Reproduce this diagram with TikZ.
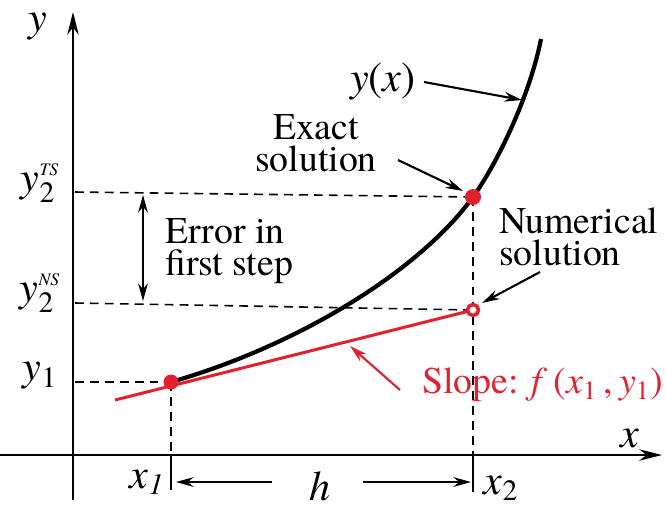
\documentclass[tikz,border=0pt]{standalone}
\usepackage{amsmath}
\usepackage{fontspec}
\setmainfont{texgyretermes}[Extension=.otf, UprightFont=*-regular,
  ItalicFont=*-italic, BoldFont=*-bold, BoldItalicFont=*-bolditalic]
\usetikzlibrary{arrows.meta, positioning, calc}
\definecolor{solred}{HTML}{E5202E}

\begin{document}
\begin{tikzpicture}[
  x=0.02cm, y=-0.02cm,
  ax/.style={-{Stealth[length=13pt, width=6.5pt]}, line width=1.1pt},
  curve/.style={line width=2.4pt},
  slope/.style={solred, line width=1.7pt},
  guide/.style={dashed, dash pattern=on 5pt off 3.5pt, line width=0.9pt},
  tick/.style={line width=0.9pt},
  pointer/.style={-{Stealth[length=10pt, width=5.5pt]}, line width=1.2pt},
  lbl/.style={font=\fontsize{24}{26}\selectfont, inner sep=1pt},
  txt/.style={font=\fontsize{21.5}{22}\selectfont, align=left, inner sep=1pt},
]
\useasboundingbox (0,0) rectangle (666,508);

% axes
\coordinate (o) at (73,455);
\coordinate (ybot) at (73,500);
\coordinate (ytop) at (73,12);
\coordinate (xleft) at (0,455);
\coordinate (xright) at (662,455);
\draw[ax] (ybot) -- (ytop);
\draw[ax] (xleft) -- (xright);
\node[lbl] (ylab) at (38,27) {\textit{y}};
\node[lbl] (xlab) at (630,438) {\textit{x}};

% points
\coordinate (p1) at (171,382);
\coordinate (pe) at (473,197);
\coordinate (pn) at (473,310);

% dashed guides
\draw[guide] (75,192) -- (pe);
\draw[guide] (75,303) -- (pn);
\draw[guide] (75,382) -- (p1);
\draw[guide] (p1) -- (171,455);
\draw[guide] (pe) -- (473,455);
\draw[tick] (171,455) -- (171,490);
\draw[tick] (473,455) -- (473,492);

% y labels
\node[lbl] (y2ts) at (40,183)
  {\textit{y}$_{\text{2}}^{\text{\fontsize{10}{10}\selectfont\itshape TS}}$};
\node[lbl] (y2ns) at (40,293)
  {\textit{y}$_{\text{2}}^{\text{\fontsize{10}{10}\selectfont\itshape NS}}$};
\node[lbl] (y1) at (40,376) {\textit{y}$_{\text{1}}$};

% exact solution curve
\draw[curve] (p1) .. controls (300,345) and (420,270) .. (pe)
  .. controls (498,162) and (530,95) .. (541,39);
\coordinate (cyx) at (522,100);

% slope line
\coordinate (sl0) at (115,400);
\draw[slope] (sl0) -- (pn);
\coordinate (sltip) at (350,346);

% markers
\fill[solred] (p1) circle (7.5);
\fill[solred] (pe) circle (8);
\draw[solred, line width=2pt, fill=white] (pn) circle (5.5);

% error arrow
\coordinate (erra) at (143,195);
\coordinate (errb) at (143,301);
\draw[{Stealth[length=10pt, width=5.5pt]}-{Stealth[length=10pt, width=5.5pt]}, line width=1.2pt] (erra) -- (errb);
\node[txt, anchor=west] (err) at (163,251) {Error in\\[-4pt]first step};

% labels with pointers
\node[lbl] (yx) at (383,82) {\textit{y}(\textit{x})};
\draw[pointer] (yx.east) ++(6,0) -- (cyx);

\node[txt, align=center] (exact) at (316,143) {Exact\\[-4pt]solution};
\coordinate (exact0) at (398,160);
\draw[pointer] (exact0) -- ($(pe)+(-10,-6)$);

\node[txt, anchor=west] (num) at (497,237) {Numerical\\[-4pt]solution};
\coordinate (num0) at (540,272);
\draw[pointer] (num0) -- ($(pn)+(9,-7)$);

\node[txt, anchor=west, text=solred] (slab) at (420,385)
  {Slope: \textit{f}\,(\textit{x}$_{\text{1}}$\,,\,\textit{y}$_{\text{1}}$)};
\coordinate (slope0) at (400,390);
\draw[pointer, solred] (slope0) -- (sltip);

% step width
\node[lbl] (x1) at (147,482) {\textit{x}$_{\text{\itshape 1}}$};
\node[lbl] (x2) at (501,488) {\textit{x}$_{\text{2}}$};
\node[lbl] (h) at (320,486) {\textit{h}};
\coordinate (hl) at (272,482);
\coordinate (hr) at (363,482);
\draw[pointer] (hl) -- (176,482);
\draw[pointer] (hr) -- (471,482);

\end{tikzpicture}
\end{document}
